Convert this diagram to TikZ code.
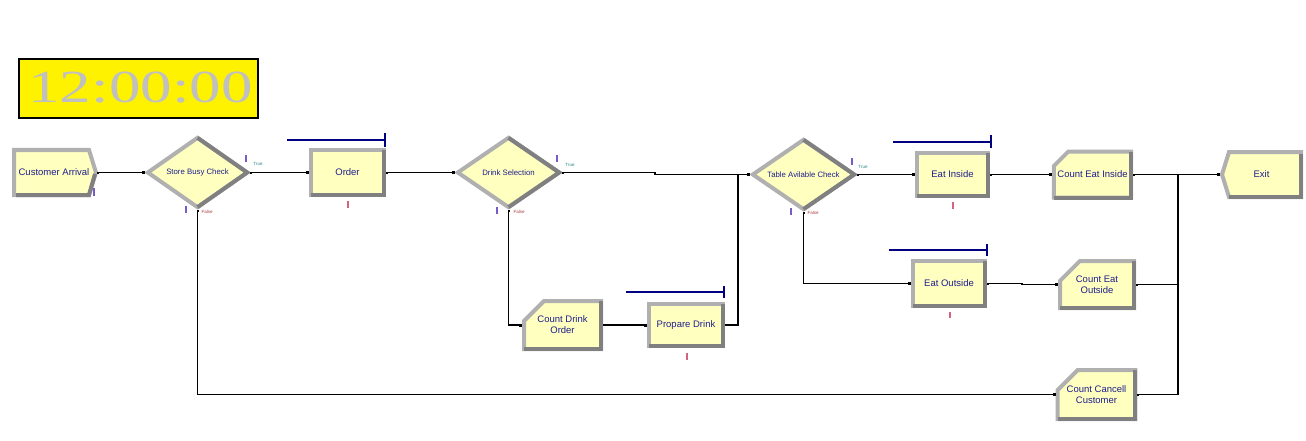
\documentclass[tikz,border=0pt]{standalone}
\usepackage{fontspec}
\setmainfont{Liberation Sans}
\newfontfamily\clockfont{Liberation Serif}
\usetikzlibrary{shapes.geometric,shapes.misc,arrows.meta}
\definecolor{yel}{RGB}{255,255,192}
\definecolor{bev}{RGB}{176,176,176}
\definecolor{dk}{RGB}{128,128,128}
\definecolor{txt}{RGB}{30,30,140}
\definecolor{qblue}{RGB}{0,0,128}
\definecolor{truec}{RGB}{40,130,130}
\definecolor{falsec}{RGB}{170,60,60}
\definecolor{barb}{RGB}{120,90,200}
\definecolor{barp}{RGB}{210,100,130}
\definecolor{clockgray}{RGB}{192,192,192}
\tikzset{
  base/.style={fill=yel, draw=bev, line width=4pt, inner sep=0pt, text=txt,
    font=\fontsize{9.5}{11}\selectfont, align=center},
  proc/.style={base, rectangle},
  rec/.style={base, chamfered rectangle, chamfered rectangle corners=north west,
    chamfered rectangle xsep=12pt, chamfered rectangle ysep=11pt},
  dec/.style={base, diamond, font=\fontsize{7.8}{9}\selectfont},
  shapelbl/.style={inner sep=0pt, outer sep=0pt, text=txt, font=\fontsize{9.5}{11}\selectfont, align=center},
  dkedge/.style={draw=dk, line width=4pt},
  conn/.style={line width=1.2pt, {Square[length=2pt,width=2pt]}-{Square[length=3pt,width=3pt]}},
  queue/.style={draw=qblue, line width=1.2pt},
  truelbl/.style={text=truec, font=\fontsize{4.5}{5}\selectfont, inner sep=0pt},
  falselbl/.style={text=falsec, font=\fontsize{4.5}{5}\selectfont, inner sep=0pt},
  barB/.style={draw=barb, line width=1.4pt},
  barP/.style={draw=barp, line width=1.4pt},
}
\newcommand\bevR[1]{\draw[dkedge] ([shift={(2pt,2pt)}]#1.south west) -- ([shift={(-2pt,2pt)}]#1.south east) -- ([shift={(-2pt,-2pt)}]#1.north east);}
\newcommand\bevD[1]{\draw[dkedge] ([yshift=-2.8pt]#1.north) -- ([xshift=-2.8pt]#1.east) -- ([yshift=2.8pt]#1.south);}
\begin{document}
\begin{tikzpicture}[x=1pt,y=-1pt]
\useasboundingbox (0,0) rectangle (1306,441);
\fill[white] (0,0) rectangle (1306,441);

% clock
\node[draw=black, line width=1.5pt, fill=yellow, minimum width=239pt, minimum height=59pt, inner sep=0pt] (clock) at (138.5,88.5) {};
\node[text=clockgray, font=\clockfont\fontsize{46}{46}\selectfont, xscale=1.37, inner sep=0pt] (clocktxt) at (140.5,87.5) {12:00:00};

% Customer Arrival (create)
\filldraw[fill=yel, draw=bev, line width=4pt, line join=miter] (14,150) -- (89,150) -- (96,172.5) -- (89,195) -- (14,195) -- cycle;
\draw[dkedge] (16,195) -- (89,195) -- (95,174);
\node[shapelbl, minimum width=86pt, minimum height=49pt] (ca) at (54,172.5) {Customer Arrival};

% Exit (dispose)
\filldraw[fill=yel, draw=bev, line width=4pt, line join=miter] (1222,174.5) -- (1229,152) -- (1301,152) -- (1301,197) -- (1229,197) -- cycle;
\draw[dkedge] (1229,197) -- (1301,197) -- (1301,154);
\node[shapelbl, minimum width=83pt, minimum height=49pt] (exit) at (1261.5,174.5) {Exit};

% decisions
\node[dec, minimum width=101pt, minimum height=71pt, aspect=1.42] (sbc) at (197.5,172.5) {Store Busy Check};
\bevD{sbc}
\node[dec, minimum width=103pt, minimum height=71pt, aspect=1.45] (ds) at (508.5,172.5) {Drink Selection};
\bevD{ds}
\node[dec, minimum width=103pt, minimum height=71pt, aspect=1.45] (tac) at (803.5,174.5) {Table Avilable Check};
\bevD{tac}

% processes
\node[proc, minimum width=73pt, minimum height=45pt] (order) at (347.5,172.5) {Order};
\bevR{order}
\node[proc, minimum width=71pt, minimum height=43pt] (ei) at (952.5,174.5) {Eat Inside};
\bevR{ei}
\node[proc, minimum width=74pt, minimum height=42pt] (pd) at (686,325) {Propare Drink};
\bevR{pd}
\node[proc, minimum width=72pt, minimum height=45pt] (eo) at (949,283.5) {Eat Outside};
\bevR{eo}

% records
\node[rec, minimum width=75pt, minimum height=46pt] (cei) at (1092.5,174.5) {Count Eat Inside};
\bevR{cei}
\node[rec, minimum width=77pt, minimum height=48pt] (cdo) at (562.5,325) {Count Drink\\Order};
\bevR{cdo}
\node[rec, minimum width=74pt, minimum height=47pt] (ceo) at (1097,284.5) {Count Eat\\Outside};
\bevR{ceo}
\node[rec, minimum width=75pt, minimum height=49pt] (ccc) at (1096.5,394.5) {Count Cancell\\Customer};
\bevR{ccc}

% bus coordinates
\coordinate (bus) at (1178,300);
\coordinate (jn) at (738,300);

% connectors
\draw[conn] (ca.east) -- (sbc.west);
\draw[conn] (sbc.east) -- (order.west);
\draw[conn] (order.east) -- (ds.west);
\draw[conn] (ds.east) -- ([xshift=93pt]ds.east) |- (tac.west);
\draw[conn] (ds.south) |- (cdo.west);
\draw[conn] (cdo.east) -- (pd.west);
\draw[conn] (pd.east) -- (pd.east -| jn) |- (tac.west);
\draw[conn] (tac.east) -- (ei.west);
\draw[conn] (tac.south) |- (eo.west);
\draw[conn] (ei.east) -- (cei.west);
\draw[conn] (eo.east) -- ([xshift=35pt]eo.east) |- (ceo.west);
\draw[conn] (cei.east) -- (exit.west);
\draw[conn] (ceo.east) -- (ceo.east -| bus) |- (exit.west);
\draw[conn] (ccc.east) -- (ccc.east -| bus) |- (exit.west);
\draw[conn] (sbc.south) |- (ccc.west);

% True / False labels
\node[truelbl] (t1) at (258,164) {True};
\node[truelbl] (t2) at (570,165) {True};
\node[truelbl] (t3) at (863,167) {True};
\node[falselbl] (f1) at (207,212) {False};
\node[falselbl] (f2) at (519,212) {False};
\node[falselbl] (f3) at (813,213) {False};

% queue animations
\draw[queue] (287,140) -- (385,140); \draw[queue] (385,133) -- (385,147);
\draw[queue] (893,142) -- (991,142); \draw[queue] (991,135) -- (991,148);
\draw[queue] (626,292) -- (724,292); \draw[queue] (724,286) -- (724,298);
\draw[queue] (889,250) -- (987,250); \draw[queue] (987,244) -- (987,256);

% small bars
\draw[barB] (94,188) -- (94,196);
\draw[barB] (246,155) -- (246,162);
\draw[barB] (186,206) -- (186,213);
\draw[barB] (557,155) -- (557,162);
\draw[barB] (497,207) -- (497,214);
\draw[barB] (852,158) -- (852,165);
\draw[barB] (791,208) -- (791,215);
\draw[barP] (348,201) -- (348,208);
\draw[barP] (953,202) -- (953,209);
\draw[barP] (950,312) -- (950,318);
\draw[barP] (687,353) -- (687,360);
\end{tikzpicture}
\end{document}
